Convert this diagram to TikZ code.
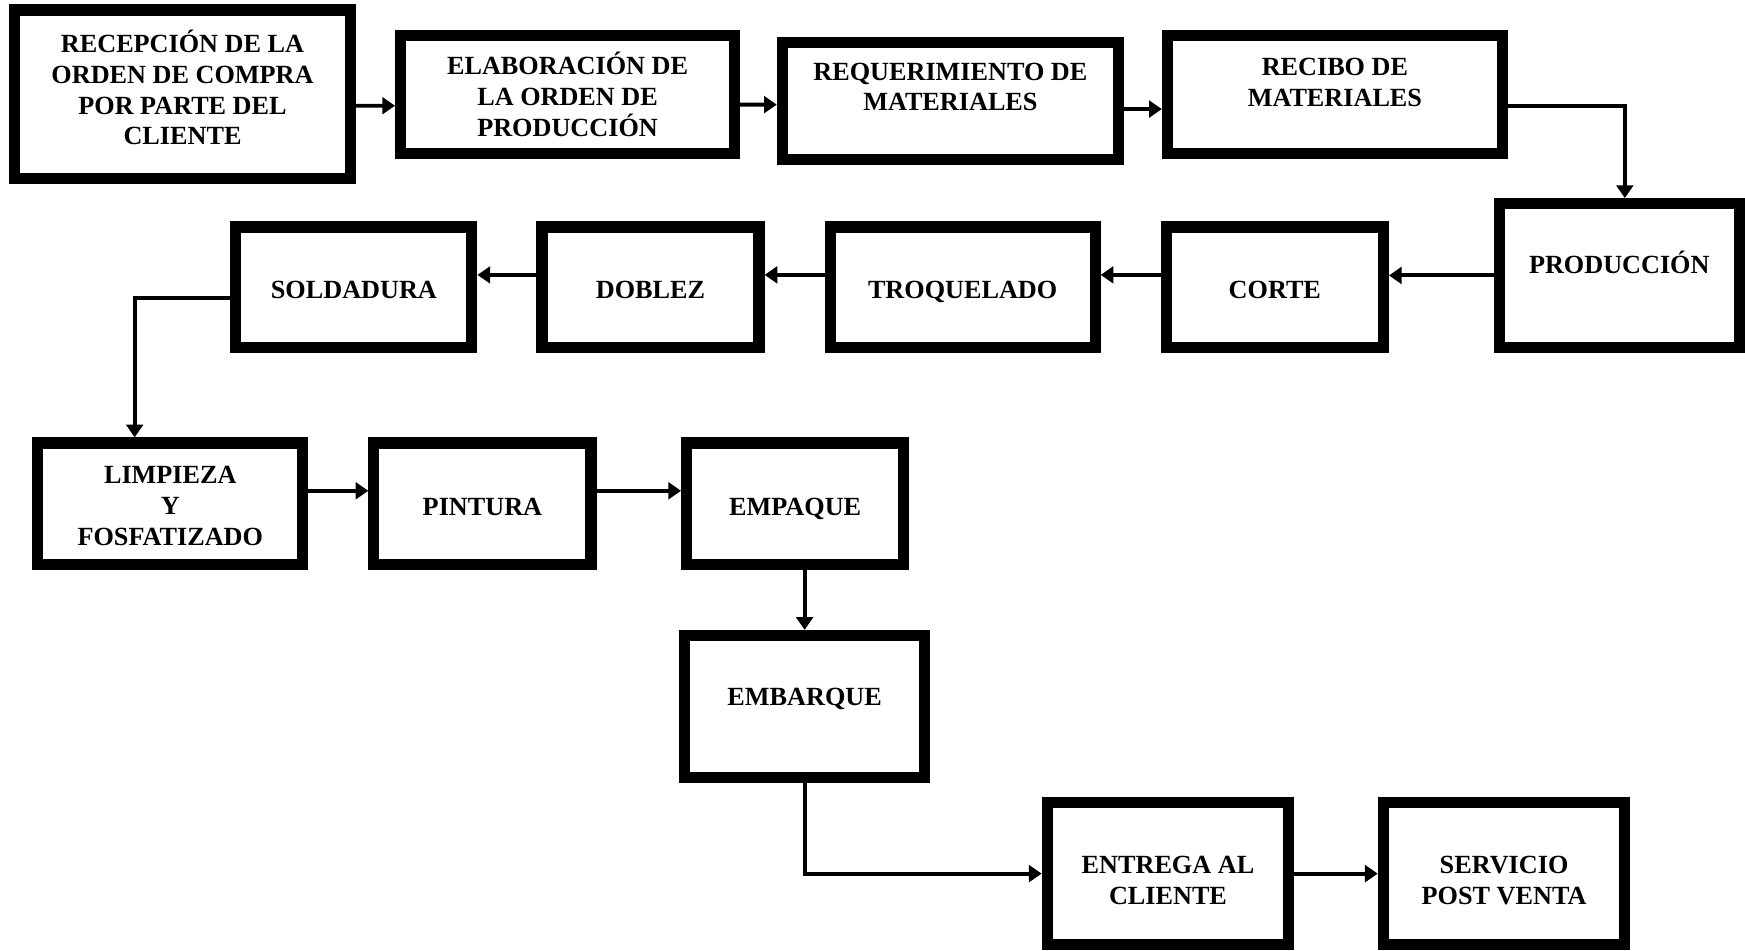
\documentclass[tikz,border=0pt]{standalone}
\usepackage{fontspec}
\setmainfont{Liberation Serif}
\usepackage{tikz}
\usetikzlibrary{arrows.meta, positioning}

\begin{document}
\begin{tikzpicture}[
    box/.style={rectangle, draw=black, line width=0.2cm, fill=white, align=center, inner sep=2pt,
        font=\fontsize{13.4}{15.8}\selectfont\bfseries},
    single/.style={box, text height=11.9pt, text depth=0pt},
    arrow/.style={line width=2pt, -{Triangle[length=0.23cm, width=0.30cm]}}
]
\useasboundingbox[fill=white] (0,0) rectangle (31.36,-17.08);

% Pedido y materiales
\node[box, minimum width=6.04cm, minimum height=3.02cm] (recepcion) at (3.28,-1.69) {RECEPCIÓN DE LA\\ORDEN DE COMPRA\\POR PARTE DEL\\CLIENTE\\[-9pt]\mbox{}};
\node[box, minimum width=6.00cm, minimum height=2.12cm] (elaboracion) at (10.20,-1.70) {ELABORACIÓN DE\\LA ORDEN DE\\PRODUCCIÓN};
\node[box, minimum width=6.04cm, minimum height=2.10cm] (requerimiento) at (17.08,-1.81) {REQUERIMIENTO DE\\MATERIALES\\[-1.6pt]\mbox{}};
\node[box, minimum width=6.02cm, minimum height=2.12cm] (recibo) at (23.99,-1.70) {RECIBO DE\\MATERIALES\\[-3pt]\mbox{}};

% Fabricacion
\node[box, minimum width=4.32cm, minimum height=2.58cm] (produccion) at (29.10,-4.95) {PRODUCCIÓN\\[-2pt]\mbox{}};
\node[single, minimum width=3.90cm, minimum height=2.16cm] (corte) at (22.91,-5.16) {CORTE};
\node[single, minimum width=4.76cm, minimum height=2.16cm] (troquelado) at (17.30,-5.16) {TROQUELADO};
\node[single, minimum width=3.90cm, minimum height=2.16cm] (doblez) at (11.69,-5.16) {DOBLEZ};
\node[single, minimum width=4.24cm, minimum height=2.16cm] (soldadura) at (6.36,-5.16) {SOLDADURA};

% Acabado
\node[box, minimum width=4.76cm, minimum height=2.18cm] (limpieza) at (3.06,-9.05) {\mbox{}\\[-4.7pt]LIMPIEZA\\Y\\FOSFATIZADO};
\node[single, minimum width=3.90cm, minimum height=2.18cm] (pintura) at (8.67,-9.05) {PINTURA};
\node[single, minimum width=3.90cm, minimum height=2.18cm] (empaque) at (14.29,-9.05) {EMPAQUE};

% Despacho
\node[box, minimum width=4.32cm, minimum height=2.56cm] (embarque) at (14.46,-12.70) {EMBARQUE\\[-6pt]\mbox{}};
\node[box, minimum width=4.34cm, minimum height=2.56cm] (entrega) at (20.99,-15.70) {\mbox{}\\ENTREGA AL\\CLIENTE};
\node[box, minimum width=4.34cm, minimum height=2.56cm] (servicio) at (27.03,-15.70) {\mbox{}\\SERVICIO\\POST VENTA};

% Arrows
\draw[arrow] ([yshift=-0.21cm]recepcion.east) -- ([yshift=-0.20cm]elaboracion.west);
\draw[arrow] ([yshift=-0.18cm]elaboracion.east) -- ([yshift=-0.07cm]requerimiento.west);
\draw[arrow] ([yshift=-0.15cm]requerimiento.east) -- ([yshift=-0.26cm]recibo.west);
\draw[arrow] ([yshift=-0.20cm]recibo.east) -| ([xshift=0.10cm]produccion.north);

\draw[arrow] (produccion.west) -- (produccion.west -| corte.east);
\draw[arrow] ([yshift=0.22cm]corte.west) -- ([yshift=0.22cm]troquelado.east);
\draw[arrow] ([yshift=0.22cm]troquelado.west) -- ([yshift=0.22cm]doblez.east);
\draw[arrow] ([yshift=0.22cm]doblez.west) -- ([yshift=0.22cm]soldadura.east);
\draw[arrow] ([yshift=-0.20cm]soldadura.west) -| ([xshift=-0.64cm]limpieza.north);

\draw[arrow] ([yshift=0.23cm]limpieza.east) -- ([yshift=0.23cm]pintura.west);
\draw[arrow] ([yshift=0.23cm]pintura.east) -- ([yshift=0.23cm]empaque.west);
\draw[arrow] (empaque.south -| embarque.north) -- (embarque.north);
\draw[arrow] (embarque.south) |- (entrega.west);
\draw[arrow] (entrega) -- (servicio);

\end{tikzpicture}
\end{document}
